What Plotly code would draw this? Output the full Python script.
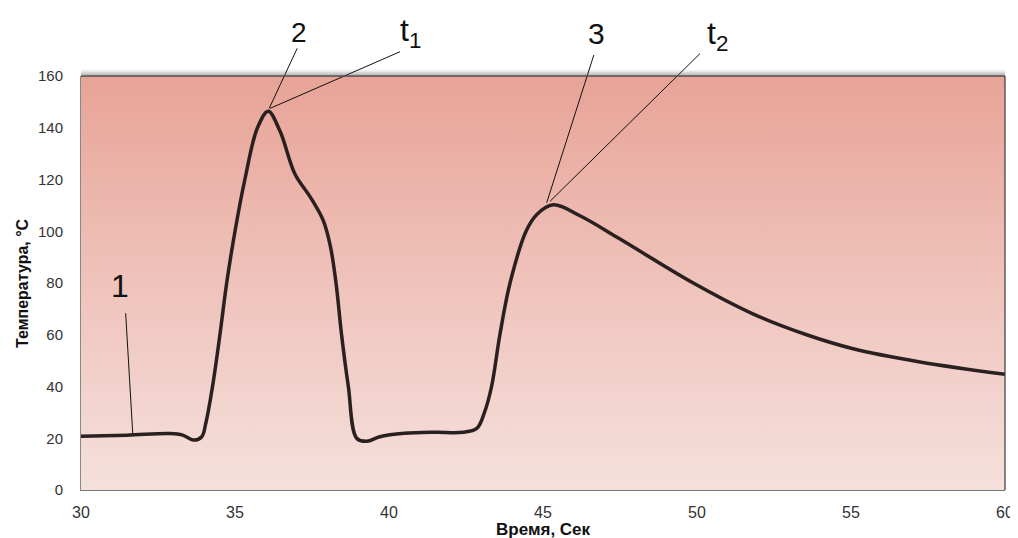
import plotly.graph_objects as go

# temperature curve
TIME_S = [30, 31.5, 32.9, 33.3, 33.65, 33.92, 34.05, 34.27, 34.51, 34.73, 35.0,
          35.32, 35.73, 36.08, 36.46, 36.95, 37.44, 37.87, 38.1, 38.28,
          38.46, 38.68, 38.95, 39.28, 39.7, 40.5, 41.5, 42.4, 42.85, 43.1,
          43.33, 43.6, 43.93, 44.45, 44.8, 45.34, 46.2, 47.5, 49.88,
          51.83, 53.56, 55.07, 57.24, 60]
TEMP_C = [20.8, 21.2, 21.8, 21.2, 19.3, 20.6, 25.7, 40, 60, 80, 100,
          120, 140, 146.4, 138.7, 122, 113.3, 104, 94, 80,
          60, 40, 20, 18.8, 20.6, 21.9, 22.3, 22.3, 23.8, 30,
          40, 60, 80, 100, 106.5, 110.2, 106, 97, 80,
          68, 60, 54.6, 49.5, 44.7]

X_RANGE = [30, 60]
Y_RANGE = [0, 160]
X_TICKS = [30, 35, 40, 45, 50, 55, 60]
Y_TICKS = [0, 20, 40, 60, 80, 100, 120, 140, 160]

# callout labels: text, label position (data units), leader line start/end (data units), font size
CALLOUTS = [
    ("1", (31.25, 79.0), (31.45, 68.3), (31.68, 21.9), 32),
    ("2", (37.08, 177.0), (37.02, 170.7), (36.11, 147.5), 28),
    ("t<sub>1</sub>", (40.7, 177.0), (40.36, 169.4), (36.14, 147.5), 32),
    ("3", (46.75, 176.5), (46.65, 168.1), (45.12, 111.0), 30),
    ("t<sub>2</sub>", (50.65, 175.5), (50.1, 168.7), (45.23, 111.6), 32),
]


def to_paper(x, y):
    return ((x - X_RANGE[0]) / (X_RANGE[1] - X_RANGE[0]),
            (y - Y_RANGE[0]) / (Y_RANGE[1] - Y_RANGE[0]))


fig = go.Figure()

# gradient background of the plot area
fig.add_trace(
    go.Scatter(
        x=[X_RANGE[0], X_RANGE[1], X_RANGE[1], X_RANGE[0], X_RANGE[0]],
        y=[Y_RANGE[0], Y_RANGE[0], Y_RANGE[1], Y_RANGE[1], Y_RANGE[0]],
        mode="lines",
        line={"width": 0},
        fill="toself",
        fillgradient={
            "type": "vertical",
            "colorscale": [[0, "#f5e0dc"], [0.5, "#efc3bb"], [1, "#e8a397"]],
        },
        hoverinfo="skip",
        showlegend=False,
    )
)

fig.add_trace(
    go.Scatter(
        x=TIME_S,
        y=TEMP_C,
        mode="lines",
        line={"color": "#2a2020", "width": 3.5, "shape": "spline", "smoothing": 1.0},
        showlegend=False,
    )
)

shapes = []
annotations = []
for text, (lx, ly), (x0, y0), (x1, y1), size in CALLOUTS:
    px0, py0 = to_paper(x0, y0)
    px1, py1 = to_paper(x1, y1)
    shapes.append(
        dict(type="line", xref="paper", yref="paper", x0=px0, y0=py0, x1=px1, y1=py1,
             line={"color": "#111111", "width": 1})
    )
    tx, ty = to_paper(lx, ly)
    annotations.append(
        dict(text=text, xref="paper", yref="paper", x=tx, y=ty, showarrow=False,
             xanchor="center", yanchor="middle",
             font={"family": "Liberation Sans", "size": size, "color": "#111111"})
    )

# soft shadow above the plot frame
for i, alpha in enumerate([0.35, 0.22, 0.12, 0.05]):
    shapes.append(
        dict(type="line", xref="paper", yref="paper", x0=0, x1=1,
             y0=1 + (i + 1) * 1.5 / 414, y1=1 + (i + 1) * 1.5 / 414,
             line={"color": f"rgba(60,60,60,{alpha})", "width": 1.5})
    )
shapes.append(
    dict(type="line", xref="paper", yref="paper", x0=0, x1=1, y0=1, y1=1,
         line={"color": "#4a4a4a", "width": 1.5})
)
shapes.append(
    dict(type="line", xref="paper", yref="paper", x0=1, x1=1, y0=0, y1=1,
         line={"color": "#3a3a3a", "width": 1.2})
)

annotations.append(
    dict(text="<b>Температура, °С</b>", xref="paper", yref="paper", x=0, y=0.5,
         xshift=-59, textangle=-90, showarrow=False, xanchor="center", yanchor="middle",
         font={"family": "Liberation Sans Narrow, Liberation Sans", "size": 16, "color": "#111111"})
)
annotations.append(
    dict(text="<b>Время, Сек</b>", xref="paper", yref="paper", x=0.5, y=0,
         yshift=-39, showarrow=False, xanchor="center", yanchor="middle",
         font={"family": "Liberation Sans Narrow, Liberation Sans", "size": 17, "color": "#111111"})
)

# the page body adds an 8px offset, so the figure is 8px smaller on each side
fig.update_layout(
    width=1010,
    height=530,
    autosize=False,
    margin={"l": 73, "r": 13, "t": 68, "b": 48},
    paper_bgcolor="white",
    plot_bgcolor="white",
    shapes=shapes,
    annotations=annotations,
)
fig.update_xaxes(
    range=X_RANGE,
    tickvals=X_TICKS,
    automargin=False,
    showgrid=False,
    zeroline=False,
    showline=True,
    linecolor="#777777",
    linewidth=1,
    ticks="",
    ticklabelstandoff=8,
    tickfont={"family": "Liberation Sans", "size": 16, "color": "#333333"},
)
fig.update_yaxes(
    range=Y_RANGE,
    tickvals=Y_TICKS,
    automargin=False,
    showgrid=True,
    gridcolor="rgba(120,95,92,0.75)",
    gridwidth=1,
    zeroline=False,
    showline=True,
    linecolor="#888888",
    linewidth=1,
    ticks="",
    ticklabelstandoff=14,
    tickfont={"family": "Liberation Sans", "size": 15, "color": "#333333"},
)

fig.write_html("out.html")
